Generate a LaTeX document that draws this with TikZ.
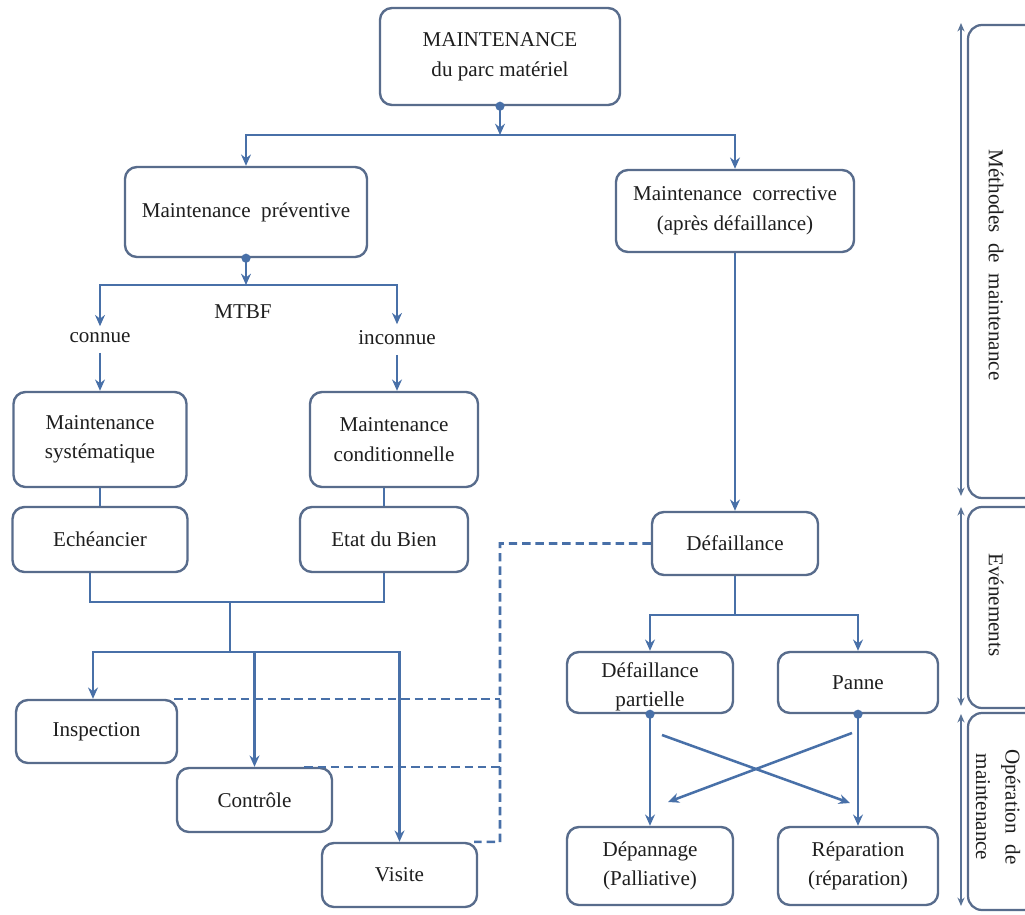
\documentclass[tikz,border=0pt]{standalone}
\usepackage{fontspec}
\setmainfont{Liberation Serif}
\usetikzlibrary{arrows.meta,calc}
\definecolor{lnc}{RGB}{72,112,168}
\definecolor{bxc}{RGB}{88,108,140}
\definecolor{txc}{RGB}{30,30,30}
\definecolor{sdc}{RGB}{90,115,150}
\tikzset{
  bx/.style={draw=bxc, line width=1.7pt, rounded corners=0.3cm, fill=white, inner sep=0pt,
             align=center, text=txc, font=\fontsize{15}{21}\selectfont},
  lbl/.style={text=txc, font=\fontsize{15}{18}\selectfont, inner sep=1pt},
  ln/.style={draw=lnc, line width=1.8pt},
  arr/.style={ln, -{Stealth[length=8pt,width=7pt]}},
  dsh/.style={draw=lnc, line width=1.8pt, dash pattern=on 6pt off 3.5pt},
  dotc/.style={fill=lnc, circle, inner sep=0pt, minimum size=6.5pt},
  side/.style={draw=sdc, line width=2pt, {Stealth[length=6pt,width=5pt]}-{Stealth[length=6pt,width=5pt]}},
  sbox/.style={draw=bxc, line width=1.6pt, rounded corners=0.35cm},
  stxt/.style={text=txc, font=\fontsize{15}{21}\selectfont, rotate=-90, align=center}
}
\begin{document}
\begin{tikzpicture}[x=0.025cm,y=-0.025cm]
\useasboundingbox (0,0) rectangle (1025,914);
\fill[white] (0,0) rectangle (1025,914);
\clip (0,0) rectangle (1025,914);

% boxes
\node[bx, minimum width=6cm, minimum height=2.425cm] (top) at (500,56.5) {MAINTENANCE\\du parc matériel};
\node[bx, minimum width=6.05cm, minimum height=2.25cm] (prev) at (246,212) {Maintenance\ \ préventive};
\node[bx, minimum width=5.95cm, minimum height=2.05cm] (corr) at (735,211) {Maintenance\ \ corrective\\(après défaillance)};
\node[bx, minimum width=4.325cm, minimum height=2.375cm] (syst) at (100,439.5) {Maintenance\\systématique};
\node[bx, minimum width=4.2cm, minimum height=2.375cm] (cond) at (394,439.5) {Maintenance\\conditionnelle};
\node[bx, minimum width=4.375cm, minimum height=1.625cm] (ech) at (100,539.5) {Echéancier};
\node[bx, minimum width=4.2cm, minimum height=1.625cm] (etat) at (384,539.5) {Etat du Bien};
\node[bx, minimum width=4.025cm, minimum height=1.575cm] (insp) at (96.5,731.5) {Inspection};
\node[bx, minimum width=3.875cm, minimum height=1.6cm] (ctrl) at (254.5,800) {Contrôle};
\node[bx, minimum width=3.875cm, minimum height=1.6cm] (visite) at (399.5,875) {Visite};
\node[bx, minimum width=4.15cm, minimum height=1.575cm] (def) at (735,543.5) {Défaillance};
\node[bx, minimum width=4.15cm, minimum height=1.525cm] (dpart) at (650,682.5) {};
\node[text=txc, font=\fontsize{15}{21}\selectfont, align=center, inner sep=0pt] (dpartt) at (650,687) {Défaillance\\partielle};
\node[bx, minimum width=4.0cm, minimum height=1.525cm] (panne) at (858,682.5) {Panne};
\node[bx, minimum width=4.15cm, minimum height=1.95cm] (depan) at (650,866) {Dépannage\\(Palliative)};
\node[bx, minimum width=4.0cm, minimum height=1.95cm] (repar) at (858,866) {Réparation\\(réparation)};

% labels
\node[lbl] (mtbf) at (243,312) {MTBF};
\node[lbl] (connue) at (100,338) {connue};
\node[lbl] (inconnue) at (397,338) {inconnue};

% top branching
\coordinate (t1) at (top.south |- 0,135);
\draw[arr] (top.south) -- (t1);
\draw[arr] (t1) -| (prev.north);
\draw[arr] (t1) -| (corr.north);
\node[dotc] at (top.south) {};

% preventive branching
\coordinate (p1) at (prev.south |- 0,285);
\draw[arr] (prev.south) -- (p1);
\node[dotc] at (prev.south) {};
\draw[arr] (p1) -| ($(connue.north)+(0,-5)$);
\draw[arr] (p1) -| ($(inconnue.north)+(0,-5)$);
\draw[arr] ($(connue.south)+(0,8)$) -- (syst.north -| connue.south);
\draw[arr] ($(inconnue.south)+(0,8)$) -- (cond.north -| inconnue.south);

% to echeancier / etat
\draw[ln] (syst.south -| ech.north) -- (ech.north);
\draw[ln] (cond.south -| etat.north) -- (etat.north);
\coordinate (j1) at (230,602);
\coordinate (j2) at (230,652);
\draw[ln] ($(ech.south)+(-10,0)$) |- (j1) -| (etat.south);
\draw[ln] (j1) -- (j2);
\draw[arr] (j2) -| ($(insp.north)+(-3.5,0)$);
\draw[arr] (j2) -| (visite.north);
\draw[arr] (ctrl.north |- j2) -- (ctrl.north);

% corrective side
\draw[arr] (corr.south) -- (def.north);
\coordinate (d1) at (def.south |- 0,615);
\draw[ln] (def.south) -- (d1);
\draw[arr] (d1) -| (dpart.north);
\draw[arr] (d1) -| (panne.north);
\draw[arr] (dpart.south) -- (depan.north);
\draw[arr] (panne.south) -- (repar.north);
\node[dotc] at (dpart.south) {};
\node[dotc] at (panne.south) {};
\coordinate (xa) at (662,735);
\coordinate (xb) at (850,803);
\coordinate (xc) at (852,733);
\coordinate (xd) at (668,802);
\draw[arr] (xa) -- (xb);
\draw[arr] (xc) -- (xd);

% dashed
\coordinate (k1) at (500,543.5);
\coordinate (k2) at (500,842);
\draw[dsh] (def.west) -- (k1) -- (k2) -- ($(visite.north east)+(-4,0)$);
\draw[dsh] ($(insp.north east)+(-4,0)$) -- (insp.north east -| k1);
\draw[dsh] ($(ctrl.north east)+(-29,0)$) -- (ctrl.north east -| k1);

% side
\coordinate (s1) at (961,23);
\coordinate (s2) at (961,496);
\coordinate (s3) at (961,507);
\coordinate (s4) at (961,706);
\coordinate (s5) at (961,714);
\coordinate (s6) at (961,906);
\draw[side] (s1) -- (s2);
\draw[side] (s3) -- (s4);
\draw[side] (s5) -- (s6);
\draw[sbox] (968,25) rectangle (1050,498);
\draw[sbox] (968,507) rectangle (1050,708);
\draw[sbox] (968,713) rectangle (1050,910);
\node[stxt] (meth) at (996,265) {Méthodes\ \ de\ \ maintenance};
\node[stxt] (evt) at (996,605) {Evénements};
\node[stxt] (oper) at (998,807) {Opération\ \ de\\maintenance};
\end{tikzpicture}
\end{document}
